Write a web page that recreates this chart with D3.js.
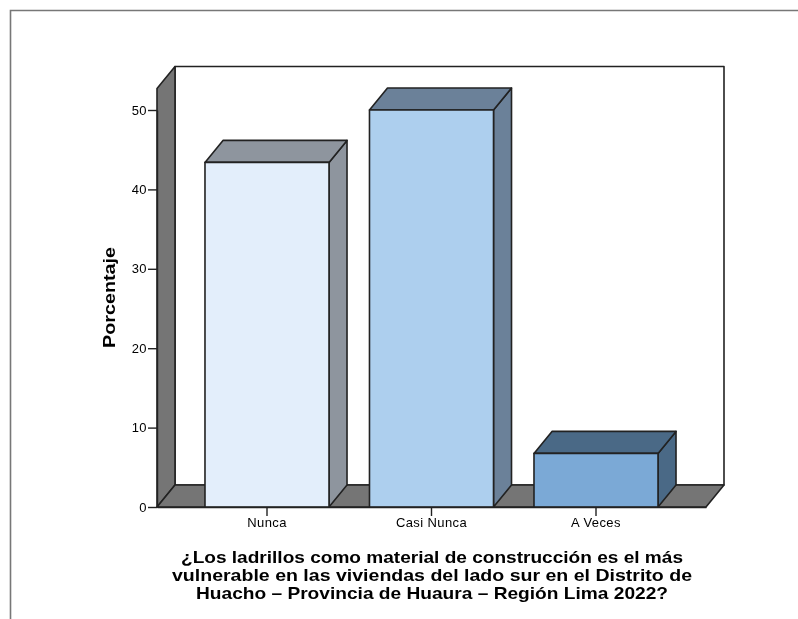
<!DOCTYPE html>
<html><head><meta charset="utf-8">
<script src="https://cdn.jsdelivr.net/npm/d3@7/dist/d3.min.js"></script>
<style>html,body{margin:0;padding:0;background:#fff}svg{display:block;filter:blur(0.3px)}text{font-family:"Liberation Sans",Arial,sans-serif;fill:#000}</style>
</head><body><svg id="c" width="798" height="619"></svg>
<script>
const categories = ["Nunca", "Casi Nunca", "A Veces"];
const values = [43.4, 50, 6.75];
const yTicks = [0, 10, 20, 30, 40, 50];
const yLabel = "Porcentaje";
const titleLines = ["¿Los ladrillos como material de construcción es el más",
  "vulnerable en las viviendas del lado sur en el Distrito de",
  "Huacho – Provincia de Huaura – Región Lima 2022?"];
const frontColors = ["#E3EEFB", "#ADCFEE", "#7BA9D6"];
const shadeColors = ["#8E959E", "#6B8199", "#4A6986"];

const dx = 18, dy = -22, plotL = 157, plotR = 706, plotB = 507, y50 = 110, wallTop = 66.5;
const titleWidths = [502, 520, 472];
const ink = "#222";
const svg = d3.select("#c");
const y = d3.scaleLinear().domain([0, 50]).range([plotB, y50]);
const x = d3.scaleBand().domain(categories).range([plotL, plotR]).paddingInner(0.246).paddingOuter(0.2917);
const poly = (pts, fill, sw = 1.6) => svg.append("path").attr("d", "M" + pts.join("L") + "Z")
  .attr("fill", fill).attr("stroke", ink).attr("stroke-width", sw).attr("stroke-linejoin", "round");

// page frame
svg.append("path").attr("d", "M10.5 619V10.5H798").attr("fill", "none").attr("stroke", "#777").attr("stroke-width", 1.6);

// walls
poly([[plotL + dx, wallTop], [plotR + dx, wallTop], [plotR + dx, plotB + dy], [plotL + dx, plotB + dy]], "#fff");
poly([[plotL, wallTop - dy], [plotL + dx, wallTop], [plotL + dx, plotB + dy], [plotL, plotB]], "#757575");
poly([[plotL, plotB], [plotL + dx, plotB + dy], [plotR + dx, plotB + dy], [plotR, plotB]], "#757575");

// bars
categories.forEach((c, i) => {
  const l = x(c), r = l + x.bandwidth(), t = y(values[i]);
  poly([[r, t], [r + dx, t + dy], [r + dx, plotB + dy], [r, plotB]], shadeColors[i]);
  poly([[l, t], [l + dx, t + dy], [r + dx, t + dy], [r, t]], shadeColors[i]);
  poly([[l, t], [r, t], [r, plotB], [l, plotB]], frontColors[i]);
});

// axes
const ay = svg.append("g").attr("transform", `translate(${plotL},0)`)
  .call(d3.axisLeft(y).tickValues(yTicks).tickSize(9).tickSizeOuter(0).tickPadding(1));
const ax = svg.append("g").attr("transform", `translate(0,${plotB})`)
  .call(d3.axisBottom(x).tickSize(9).tickSizeOuter(0).tickPadding(2));
[ay, ax].forEach(g => {
  g.select(".domain").attr("stroke", ink).attr("stroke-width", 1.4);
  g.selectAll(".tick line").attr("stroke", ink).attr("stroke-width", 1.4);
  g.selectAll("text").style("font-family", '"Liberation Sans",Arial,sans-serif').style("font-size", "13px").style("letter-spacing", "0.4px").attr("fill", "#111");
});

svg.append("text").attr("transform", "translate(115,297.5) rotate(-90)").attr("text-anchor", "middle")
  .attr("textLength", 101).attr("lengthAdjust", "spacingAndGlyphs")
  .style("font-size", "16.5px").style("font-weight", "bold").text(yLabel);

svg.append("g").selectAll("text").data(titleLines).join("text")
  .attr("x", 432).attr("y", (d, i) => 562.5 + i * 18).attr("text-anchor", "middle")
  .attr("textLength", (d, i) => titleWidths[i]).attr("lengthAdjust", "spacingAndGlyphs")
  .style("font-size", "17px").style("font-weight", "bold").text(d => d);
</script></body></html>
